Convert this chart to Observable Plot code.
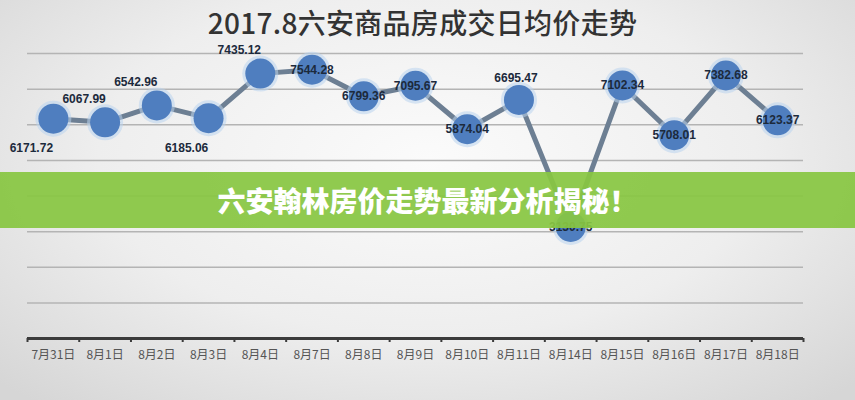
<!DOCTYPE html>
<html>
<head>
<meta charset="utf-8">
<script src="https://cdn.jsdelivr.net/npm/d3@7"></script>
<script src="https://cdn.jsdelivr.net/npm/@observablehq/plot@0.6"></script>
<style>
  html, body { margin: 0; padding: 0; }
  body { width: 855px; height: 400px; overflow: hidden;
    background: radial-gradient(ellipse 70% 80% at 50% 40%, #fbfbfb 0%, #eeeeee 55%, #d6d6d6 100%); }
  #wrap { position: relative; width: 855px; height: 400px; }
  #title { position: absolute; left: 0; top: 2px; width: 845px; text-align: center;
    font-family: "Noto Sans CJK SC", sans-serif; font-weight: 500; font-size: 28px; color: #333; letter-spacing: 0.3px; }
  #chart { position: absolute; left: 0; top: 0; }
  #banner { position: absolute; left: 0; top: 172px; width: 855px; height: 56px;
    background: rgba(136, 198, 66, 0.93); color: #fff; text-align: center;
    font-family: "Noto Sans CJK SC", sans-serif; font-weight: 900; font-size: 28px; line-height: 56px; }
</style>
</head>
<body>
<div id="wrap">
  <div id="chart"></div>
  <div id="title">2017.8六安商品房成交日均价走势</div>
  <div id="banner">六安翰林房价走势最新分析揭秘！</div>
</div>
<script>
const dates = ["7月31日","8月1日","8月2日","8月3日","8月4日","8月7日","8月8日","8月9日","8月10日","8月11日","8月14日","8月15日","8月16日","8月17日","8月18日"];
const prices = [6171.72, 6067.99, 6542.96, 6185.06, 7435.12, 7544.28, 6799.36, 7095.67, 5874.04, 6695.47, 3130.75, 7102.34, 5708.01, 7382.68, 6123.37];
const labelPlacement = ["downleft","upleft","upleft","downleft","upleft","center","center","center","center","up","center","center","center","center","center"];
const gridValues = [1000, 2000, 3000, 4000, 5000, 6000, 7000, 8000];

const data = dates.map((d, i) => ({date: d, price: prices[i], pos: i + 0.5, place: labelPlacement[i]}));
const fmt = d => d.price.toFixed(2);
const labelFont = {fontFamily: "Liberation Sans, Arial, sans-serif", fontWeight: "bold", fontSize: 12, fill: "#1c2a3c"};

const chart = Plot.plot({
  width: 855,
  height: 400,
  marginLeft: 27,
  marginRight: 52,
  marginTop: 53,
  marginBottom: 62,
  style: {background: "transparent", overflow: "visible"},
  x: {domain: [0, dates.length], axis: null},
  y: {domain: [0, 8000], axis: null},
  marks: [
    Plot.gridY(gridValues, {stroke: "#b4b4b4", strokeOpacity: 1, strokeWidth: 1.5}),
    Plot.ruleY([0], {stroke: "#3b3b3b", strokeWidth: 3}),
    Plot.axisX({ticks: d3.range(dates.length + 1), tickSize: 4, tickFormat: () => "", label: null, stroke: "#3b3b3b", strokeWidth: 2}),
    Plot.axisX({ticks: d3.range(dates.length).map(i => i + 0.5), tickSize: 0, tickPadding: 12, label: null,
      tickFormat: v => dates[Math.round(v - 0.5)], fontSize: 12, fill: "#555",
      fontFamily: "Noto Sans CJK SC, sans-serif"}),
    Plot.line(data, {x: "pos", y: "price", stroke: "#6d7f93", strokeWidth: 5, strokeLinejoin: "round"}),
    Plot.dot(data, {x: "pos", y: "price", r: 18, fill: "#b9d4ee", fillOpacity: 0.55}),
    Plot.dot(data, {x: "pos", y: "price", r: 15, fill: "#4f7ebf"}),
    Plot.text(data.filter(d => d.place === "center"), {x: "pos", y: "price", text: fmt, ...labelFont}),
    Plot.text(data.filter(d => d.place === "upleft"), {x: "pos", y: "price", text: fmt, dx: -21, dy: -23, ...labelFont}),
    Plot.text(data.filter(d => d.place === "up"), {x: "pos", y: "price", text: fmt, dx: -3, dy: -22, ...labelFont}),
    Plot.text(data.filter(d => d.place === "downleft"), {x: "pos", y: "price", text: fmt, dx: -22, dy: 30, ...labelFont})
  ]
});
document.getElementById("chart").appendChild(chart);
</script>
</body>
</html>
